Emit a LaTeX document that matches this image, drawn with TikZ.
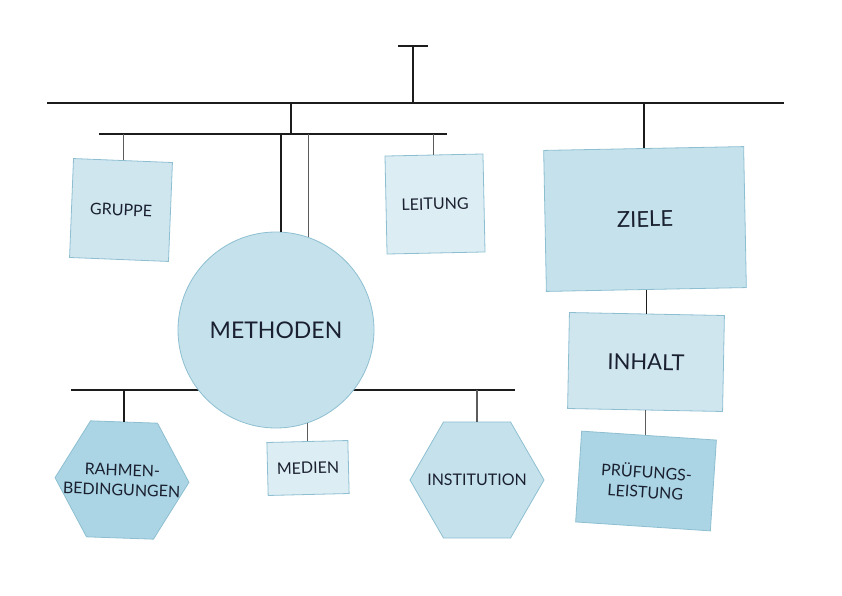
\documentclass[tikz,border=0pt]{standalone}
\usepackage{fontspec}
\setmainfont{Lato}
\usepackage{tikz}
\usetikzlibrary{shapes.geometric}
\definecolor{rope}{HTML}{1C1C1C}
\definecolor{twine}{HTML}{5C5C5C}
\definecolor{rim}{HTML}{8DBFD1}
\definecolor{ink}{HTML}{1A2030}
\definecolor{paleA}{HTML}{DCEDF4}
\definecolor{paleB}{HTML}{CFE6EF}
\definecolor{paleC}{HTML}{C5E2EC}
\definecolor{paleD}{HTML}{ABD5E4}

\begin{document}
\begin{tikzpicture}[x=1pt, y=-1pt, rope/.style={draw=rope, line width=2pt}, twine/.style={draw=twine, line width=1pt},
  every node/.style={draw=rim, line width=0.8pt, text=ink, align=center, inner sep=0pt, font=\fontsize{16}{20}\selectfont},
  card/.style={rectangle}, hexa/.style={regular polygon, regular polygon sides=6, minimum size=134pt, inner sep=-30pt},
  big/.style={font=\fontsize{22}{26}\selectfont}]
  \useasboundingbox (0,0) rectangle (842,596);
  % bars of the mobile
  \coordinate (top) at (413,46);
  \coordinate (hookL) at (398,46);
  \coordinate (hookR) at (428,46);
  \coordinate (barL) at (47,103);
  \coordinate (barR) at (784,103);
  \coordinate (armL) at (99,134);
  \coordinate (armR) at (447,134);
  \coordinate (lowL) at (71,390);
  \coordinate (lowR) at (515,390);
  \draw[rope] (hookL) -- (hookR);
  \draw[rope] (top) -- (top |- barL);
  \draw[rope] (barL) -- (barR);
  \draw[rope] (291,103) coordinate (armtop) -- (armtop |- armL);
  \draw[rope] (armL) -- (armR);
  \draw[rope] (lowL) -- (lowR);

  \node[card, fill=paleB, minimum width=99pt, minimum height=99pt, rotate=-2.3] (gruppe) at (121,210) {GRUPPE};
  \node[card, fill=paleA, minimum width=98pt, minimum height=98pt, rotate=1.2] (leitung) at (435,204) {LEITUNG};
  \node[circle, fill=paleC, minimum size=196pt, big, font=\fontsize{23}{26}\selectfont] (methoden) at (276,330) {METHODEN};
  \node[hexa, fill=paleD, rotate=-2] (rahmen) at (122,480) {RAHMEN-\\BEDINGUNGEN};
  \node[card, fill=paleA, minimum width=81pt, minimum height=53pt, rotate=1.4] (medien) at (308,468) {MEDIEN};
  \node[hexa, fill=paleC] (institution) at (477,480) {INSTITUTION};
  \node[card, fill=paleC, minimum width=200pt, minimum height=141pt, rotate=1.1, big] (ziele) at (645,219) {ZIELE};
  \node[card, fill=paleB, minimum width=155pt, minimum height=96pt, rotate=-1.1, big] (inhalt) at (646,362) {INHALT};
  \node[card, fill=paleD, minimum width=135pt, minimum height=91pt, rotate=-3.8] (pruefung) at (646,481) {PRÜFUNGS-\\LEISTUNG};

  % strings
  \draw[twine] (gruppe.north) -- (gruppe.north |- armL);
  \draw[twine] (leitung.north) -- (leitung.north |- armL);
  \draw[rope] (methoden.87) -- (methoden.87 |- armL);
  \draw[twine] (methoden.71) -- (methoden.71 |- armL);
  \draw[rope, line width=1.3pt] (rahmen.north) -- (rahmen.north |- lowL);
  \draw[twine, line width=1.3pt] (institution.north) -- (institution.north |- lowL);
  \draw[twine] (medien.north) -- (medien.north |- methoden.-71);
  \draw[rope] (ziele.north) -- (ziele.north |- barR);
  \draw[twine, draw=rope] (ziele.south) -- (ziele.south |- inhalt.north);
  \draw[twine] (inhalt.south) -- (pruefung.north -| inhalt.south);
\end{tikzpicture}
\end{document}
